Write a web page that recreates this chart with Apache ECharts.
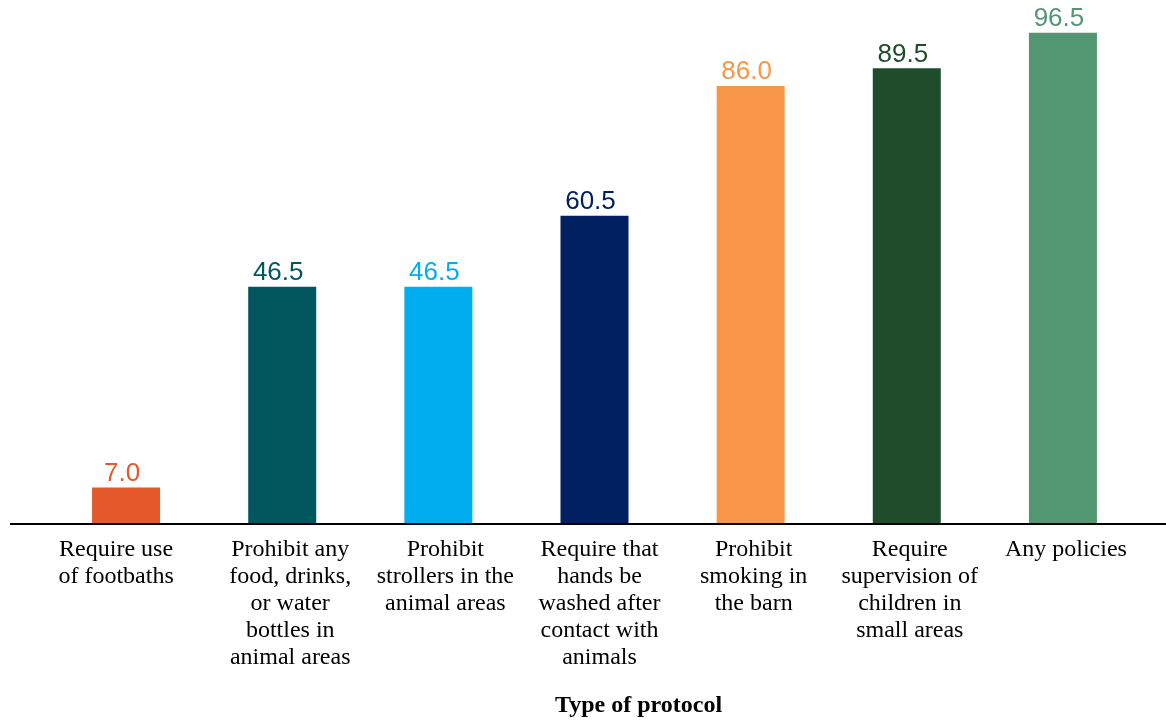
<!DOCTYPE html>
<html>
<head>
<meta charset="utf-8">
<script src="https://cdn.jsdelivr.net/npm/echarts@6/dist/echarts.min.js"></script>
<style>html,body{margin:0;padding:0;background:#fff;}#c{width:1166px;height:723px;}</style>
</head>
<body>
<div id="c"></div>
<script>
const categories = [
  "Require use\nof footbaths",
  "Prohibit any\nfood, drinks,\nor water\nbottles in\nanimal areas",
  "Prohibit\nstrollers in the\nanimal areas",
  "Require that\nhands be\nwashed after\ncontact with\nanimals",
  "Prohibit\nsmoking in\nthe barn",
  "Require\nsupervision of\nchildren in\nsmall areas",
  "Any policies"
];
const values = [7.0, 46.5, 46.5, 60.5, 86.0, 89.5, 96.5];
const colors = ["#E4582C", "#02565E", "#00AEEF", "#012060", "#F79646", "#1F4D2B", "#529772"];
const axisTitle = "Type of protocol";

// horizontal nudges (px) of category label blocks, style only
const labelShift = [-10, 8, 7, 5, 3, 3, 3];

const chart = echarts.init(document.getElementById('c'));
chart.setOption({
  animation: false,
  backgroundColor: '#fff',
  grid: { left: 48, right: 25, top: 15, bottom: 199 },
  xAxis: {
    type: 'category',
    data: categories.map((c, i) => ({
      value: c,
      textStyle: {
        padding: labelShift[i] >= 0 ? [0, 0, 0, 2 * labelShift[i]] : [0, -2 * labelShift[i], 0, 0]
      }
    })),
    axisLine: { show: false },
    axisTick: { show: false },
    axisLabel: {
      interval: 0,
      margin: 13,
      fontFamily: '"Liberation Serif", "Times New Roman", serif',
      fontSize: 24,
      lineHeight: 27,
      color: '#000',
      align: 'center',
      verticalAlign: 'top'
    },
    name: axisTitle,
    nameLocation: 'middle',
    nameGap: 171,
    nameTextStyle: {
      fontFamily: '"Liberation Serif", "Times New Roman", serif',
      fontSize: 24,
      fontWeight: 'bold',
      color: '#000',
      padding: [0, 0, 0, 88]
    }
  },
  yAxis: {
    type: 'value',
    min: 0,
    max: 100,
    show: false,
    splitLine: { show: false }
  },
  series: [{
    type: 'bar',
    barWidth: 68,
    data: values.map((v, i) => ({
      value: v,
      itemStyle: { color: colors[i] },
      label: { color: colors[i] }
    })),
    label: {
      show: true,
      position: 'top',
      distance: 1,
      padding: [0, 8, 0, 0],
      fontFamily: '"Liberation Sans", Arial, sans-serif',
      fontSize: 26,
      formatter: p => p.value.toFixed(1)
    }
  }],
  graphic: [{
    type: 'line',
    shape: { x1: 10, y1: 524, x2: 1166, y2: 524 },
    style: { stroke: '#000', lineWidth: 2 },
    z: 100
  }]
});
</script>
</body>
</html>
